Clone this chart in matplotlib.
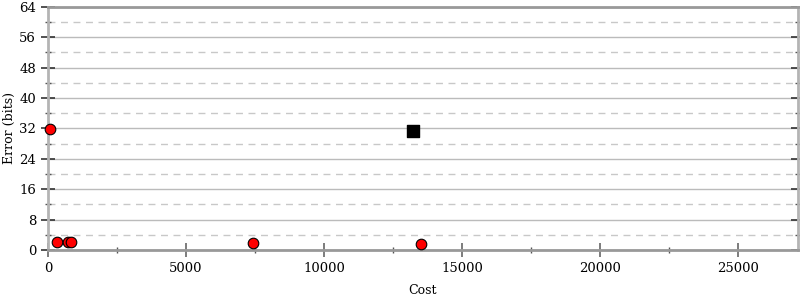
import numpy as np
import matplotlib.pyplot as plt
from matplotlib.ticker import MultipleLocator

# data
circle_cost = [70, 330, 725, 840, 7430, 13520]
circle_err = [31.8, 2.0, 2.1, 2.1, 1.8, 1.6]
square_cost = [13230]
square_err = [31.3]

plt.rcParams['font.family'] = ['DejaVu Serif']
plt.rcParams['font.size'] = 9

fig = plt.figure(figsize=(8, 3), dpi=100)
ax = fig.add_axes([0.06, 0.167, 0.937, 0.81])

ax.set_xlim(0, 27140)
ax.set_ylim(0, 64)
ax.xaxis.set_major_locator(MultipleLocator(5000))
ax.xaxis.set_minor_locator(MultipleLocator(2500))
ax.yaxis.set_major_locator(MultipleLocator(8))
ax.yaxis.set_minor_locator(MultipleLocator(4))

ax.grid(axis='y', which='major', color='#bbbbbb', lw=1, ls='-')
ax.grid(axis='y', which='minor', color='#c8c8c8', lw=1, ls=(0, (5, 4)))
ax.set_axisbelow(True)

for s in ax.spines.values():
    s.set_color('#999999')
    s.set_linewidth(2)
ax.spines['left'].set_color('#b4b4b4')
ax.spines['right'].set_color('#b4b4b4')

ax.tick_params(which='major', direction='inout', length=10, width=1.2, color='#333333',
               right=True, labelsize=9.5)
ax.tick_params(which='minor', direction='inout', length=5, width=1, color='#555555', right=True)
ax.tick_params(axis='x', which='major', color='#666666')

ax.scatter(circle_cost, circle_err, s=58, c='red', edgecolors='black', linewidths=0.8,
           zorder=3, clip_on=False)
ax.scatter(square_cost, square_err, s=66, marker='s', c='black', edgecolors='black',
           zorder=3)

ax.set_xlabel('Cost')
ax.set_ylabel('Error (bits)')
ax.xaxis.set_label_coords(0.5, -0.14)
ax.yaxis.set_label_coords(-0.043, 0.5)

fig.savefig('out.png', dpi=100)
